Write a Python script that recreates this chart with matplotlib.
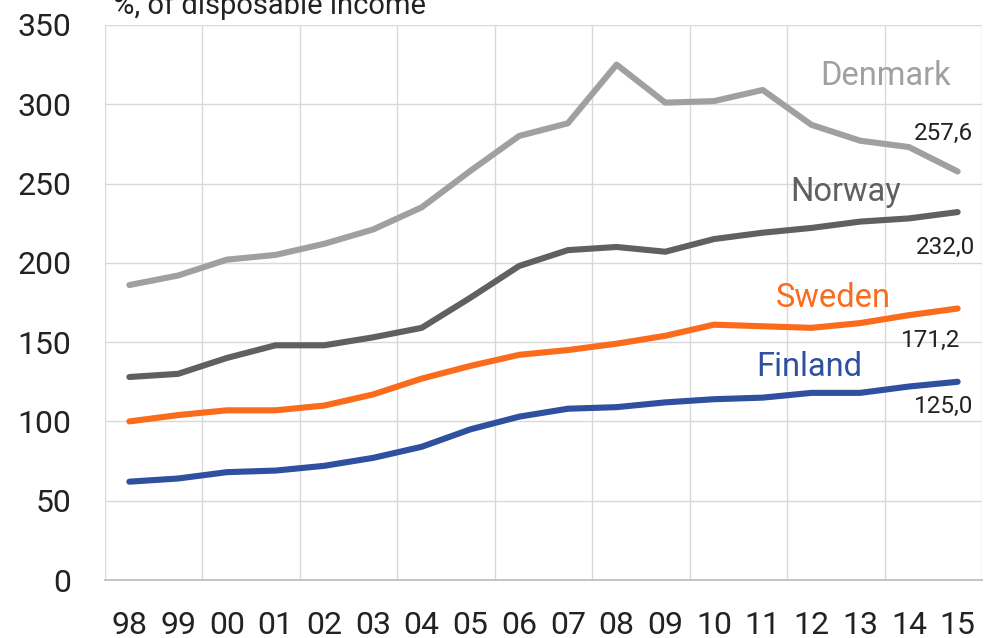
import matplotlib
matplotlib.use("Agg")
import matplotlib.pyplot as plt

plt.rcParams['font.family'] = ['Roboto', 'DejaVu Sans']

years = ["98", "99", "00", "01", "02", "03", "04", "05", "06",
         "07", "08", "09", "10", "11", "12", "13", "14", "15"]

denmark = [186, 192, 202, 205, 212, 221, 235, 258, 280,
           288, 325, 301, 302, 309, 287, 277, 273, 257.6]
norway  = [128, 130, 140, 148, 148, 153, 159, 178, 198,
           208, 210, 207, 215, 219, 222, 226, 228, 232.0]
sweden  = [100, 104, 107, 107, 110, 117, 127, 135, 142,
           145, 149, 154, 161, 160, 159, 162, 167, 171.2]
finland = [62, 64, 68, 69, 72, 77, 84, 95, 103,
           108, 109, 112, 114, 115, 118, 118, 122, 125.0]

series = [
    ("Denmark", denmark, "#a0a0a0", (15.52, 318), (16.71, 281.5)),
    ("Norway",  norway,  "#606060", (14.70, 244.5), (16.75, 209.8)),
    ("Sweden",  sweden,  "#fa6b1c", (14.45, 178), (16.44, 151)),
    ("Finland", finland, "#2f4f9f", (13.96, 134), (16.71, 109.6)),
]

fig = plt.figure(figsize=(10, 6.38), dpi=100)
ax = fig.add_axes([0.105, 0.0909, 0.877, 0.870])

x = list(range(len(years)))
for name, vals, col, lab_pos, val_pos in series:
    ax.plot(x, vals, color=col, lw=4.4, solid_capstyle='round',
            solid_joinstyle='round', zorder=3)
    ax.text(lab_pos[0], lab_pos[1], name, color=col, fontsize=23.5,
            ha='center', va='center', zorder=4)
    ax.text(val_pos[0], val_pos[1], f"{vals[-1]:.1f}".replace('.', ','),
            color="#222222", fontsize=17.5, ha='center', va='center', zorder=4)

ax.set_xlim(-0.5, len(years) - 0.5)
ax.set_ylim(0, 350)
ax.set_yticks(range(0, 351, 50))
ax.set_xticks(x)
ax.set_xticklabels(years)

# vertical grid every two categories, on the boundaries
for b in range(0, len(years) + 1, 2):
    ax.axvline(b - 0.5, color="#d9d9d9", lw=1, zorder=1)
for v in range(50, 351, 50):
    ax.axhline(v, color="#d9d9d9", lw=1, zorder=1)

for s in ['top', 'right', 'left']:
    ax.spines[s].set_visible(False)
ax.spines['bottom'].set_color("#bfbfbf")
ax.spines['bottom'].set_linewidth(1.3)

ax.tick_params(axis='both', length=0, labelsize=23, colors="#222222")
ax.tick_params(axis='y', pad=24)
ax.tick_params(axis='x', pad=22)

# heading sits partly above the top edge, as in the source image
fig.text(0.113, 1 - 14 / 638, "%, of disposable income", fontsize=21,
         color="#222222", ha='left', va='baseline')

fig.savefig("out.png", dpi=100)
